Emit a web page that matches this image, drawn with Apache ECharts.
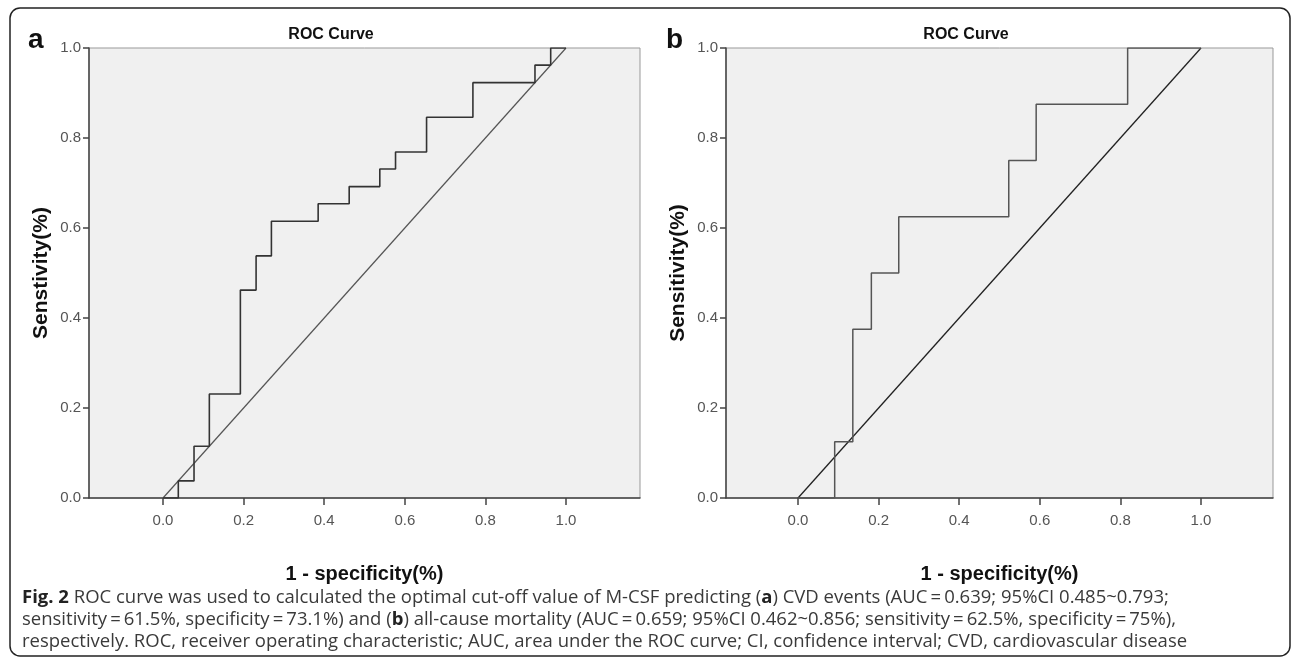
<!DOCTYPE html>
<html>
<head>
<meta charset="utf-8">
<script src="https://cdn.jsdelivr.net/npm/echarts@6/dist/echarts.min.js"></script>
<style>
html,body{margin:0;padding:0;background:#fff;}
#chart{width:1292px;height:658px;}
</style>
</head>
<body>
<div id="chart"></div>
<script>
// ---- data ----
const tickLabels = ['0.0', '0.2', '0.4', '0.6', '0.8', '1.0'];
const tickValues = [0, 0.2, 0.4, 0.6, 0.8, 1.0];

// Panel a: CVD events (ROC points, 1-specificity vs sensitivity)
const rocA_fpr = [0, 0.038, 0.077, 0.115, 0.192, 0.231, 0.269, 0.385, 0.462, 0.538, 0.577, 0.654, 0.769, 0.923, 0.962, 1.0];
const rocA_tpr = [0, 0.038, 0.115, 0.231, 0.462, 0.538, 0.615, 0.654, 0.692, 0.731, 0.769, 0.846, 0.923, 0.962, 1.0, 1.0];

// Panel b: all-cause mortality
const rocB_fpr = [0, 0.091, 0.136, 0.182, 0.25, 0.523, 0.591, 0.818, 1.0];
const rocB_tpr = [0, 0.125, 0.375, 0.5, 0.625, 0.75, 0.875, 1.0, 1.0];

// Reference (chance) line
const diagX = [0, 1];
const diagY = [0, 1];

const titles = ['ROC Curve', 'ROC Curve'];
const yNames = ['Senstivity(%)', 'Sensitivity(%)'];
const xName = '1 - specificity(%)';
const panelLetters = ['a', 'b'];

const captionLines = [
  '{b|Fig. 2} ROC curve was used to calculated the optimal cut-off value of M-CSF predicting ({b|a}) CVD events (AUC\u2009=\u20090.639; 95%CI 0.485~0.793;',
  'sensitivity\u2009=\u200961.5%, specificity\u2009=\u200973.1%) and ({b|b}) all-cause mortality (AUC\u2009=\u20090.659; 95%CI 0.462~0.856; sensitivity\u2009=\u200962.5%, specificity\u2009=\u200975%),',
  'respectively. ROC, receiver operating characteristic; AUC, area under the ROC curve; CI, confidence interval; CVD, cardiovascular disease'
];

// ---- build ----
const zip = (xs, ys) => xs.map((x, i) => [x, ys[i]]);
const arial = '"Liberation Sans", Arial, sans-serif';
const capFont = '"Open Sans", sans-serif';

const grids = [
  { left: 89, top: 48, width: 551, height: 450 },
  { left: 726, top: 48, width: 547, height: 450 }
];
const xRanges = [[-0.1836, 1.1836], [-0.1787, 1.1787]];

function xAxis(i) {
  return {
    type: 'value', gridIndex: i, min: xRanges[i][0], max: xRanges[i][1],
    name: xName, nameLocation: 'middle', nameGap: 66,
    nameTextStyle: { fontFamily: arial, fontWeight: 'bold', fontSize: 20, color: '#111' },
    axisLine: { show: true, onZero: false, lineStyle: { color: '#444', width: 1.5 } },
    axisTick: { show: true, customValues: tickValues, length: 7, lineStyle: { color: '#444', width: 1.5 } },
    axisLabel: { customValues: tickValues, formatter: v => tickLabels[tickValues.findIndex(t => Math.abs(t - v) < 1e-6)],
      fontFamily: arial, fontSize: 15, color: '#555', margin: 15 },
    splitLine: { show: false }
  };
}
function yAxis(i) {
  return {
    type: 'value', gridIndex: i, min: 0, max: 1, interval: 0.2,
    name: yNames[i], nameLocation: 'middle', nameGap: 37, nameRotate: 90,
    nameTextStyle: { fontFamily: arial, fontWeight: 'bold', fontSize: 21, color: '#111' },
    axisLine: { show: true, onZero: false, lineStyle: { color: '#444', width: 1.5 } },
    axisTick: { show: true, length: 6, lineStyle: { color: '#444', width: 1.5 } },
    axisLabel: { formatter: v => tickLabels[Math.round(v / 0.2)], fontFamily: arial, fontSize: 15, color: '#555', margin: 8 },
    splitLine: { show: false }
  };
}

const chart = echarts.init(document.getElementById('chart'), null, { renderer: 'canvas' });

const graphics = [
  { type: 'rect', shape: { x: 10, y: 8, width: 1280, height: 648, r: 10 }, style: { fill: 'none', stroke: '#222', lineWidth: 1.5 }, z: 0 },
  { type: 'text', x: 28, y: 40, style: { text: panelLetters[0], font: 'bold 28px ' + arial, fill: '#111', verticalAlign: 'middle' } },
  { type: 'text', x: 666, y: 40, style: { text: panelLetters[1], font: 'bold 28px ' + arial, fill: '#111', verticalAlign: 'middle' } },
  { type: 'text', x: 331, y: 35, style: { text: titles[0], font: 'bold 16px ' + arial, fill: '#111', align: 'center', verticalAlign: 'middle' } },
  { type: 'text', x: 966, y: 35, style: { text: titles[1], font: 'bold 16px ' + arial, fill: '#111', align: 'center', verticalAlign: 'middle' } }
];
captionLines.forEach((t, k) => {
  graphics.push({ type: 'text', x: 22, y: 598 + k * 22, style: {
    text: t, fontFamily: capFont, fontSize: 18.5, fill: '#3a3a3a', verticalAlign: 'middle',
    rich: { b: { fontFamily: capFont, fontSize: 18.5, fontWeight: 'bold', fill: '#222' } }
  } });
});

chart.setOption({
  animation: false,
  grid: grids.map(g => Object.assign({ show: true, backgroundColor: '#f0f0f0', borderColor: '#999', borderWidth: 1 }, g)),
  xAxis: [xAxis(0), xAxis(1)],
  yAxis: [yAxis(0), yAxis(1)],
  series: [
    { type: 'line', xAxisIndex: 0, yAxisIndex: 0, data: zip(diagX, diagY), symbol: 'none', lineStyle: { color: '#555', width: 1.2 }, z: 3 },
    { type: 'line', xAxisIndex: 0, yAxisIndex: 0, data: zip(rocA_fpr, rocA_tpr), step: 'end', symbol: 'none', lineStyle: { color: '#333', width: 1.6 }, z: 4 },
    { type: 'line', xAxisIndex: 1, yAxisIndex: 1, data: zip(diagX, diagY), symbol: 'none', lineStyle: { color: '#222', width: 1.3 }, z: 3 },
    { type: 'line', xAxisIndex: 1, yAxisIndex: 1, data: zip(rocB_fpr, rocB_tpr), step: 'end', symbol: 'none', lineStyle: { color: '#555', width: 1.5 }, z: 4 }
  ],
  graphic: graphics
});
</script>
</body>
</html>
